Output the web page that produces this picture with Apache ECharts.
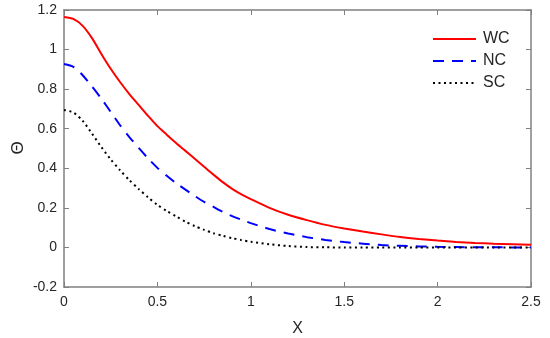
<!DOCTYPE html>
<html><head><meta charset="utf-8">
<script src="https://cdn.jsdelivr.net/npm/echarts@6/dist/echarts.min.js"></script>
<style>html,body{margin:0;padding:0;background:#fff}#c{width:550px;height:338px}</style>
</head><body><div id="c"></div>
<script>
var xs = [0, 0.05, 0.1, 0.15, 0.2, 0.25, 0.3, 0.35, 0.4, 0.45, 0.5, 0.55, 0.6, 0.65, 0.7, 0.75, 0.8, 0.85, 0.9, 0.95, 1.0,
          1.1, 1.2, 1.3, 1.4, 1.5, 1.6, 1.7, 1.8, 1.9, 2.0, 2.1, 2.2, 2.3, 2.4, 2.5];
var wc = [1.165, 1.155, 1.12, 1.058, 0.978, 0.903, 0.836, 0.775, 0.72, 0.665, 0.613, 0.57, 0.528, 0.488, 0.448, 0.408, 0.368, 0.33, 0.296, 0.268, 0.244,
          0.2, 0.165, 0.138, 0.114, 0.096, 0.08, 0.066, 0.053, 0.043, 0.035, 0.028, 0.023, 0.019, 0.016, 0.013];
var nc = [0.927, 0.913, 0.87, 0.813, 0.752, 0.685, 0.618, 0.558, 0.503, 0.45, 0.402, 0.362, 0.325, 0.292, 0.26, 0.23, 0.205, 0.18, 0.158, 0.14, 0.123,
          0.093, 0.07, 0.052, 0.038, 0.027, 0.019, 0.012, 0.008, 0.005, 0.003, 0.002, 0.001, 0.001, 0.0, 0.0];
var sc = [0.695, 0.682, 0.64, 0.575, 0.507, 0.445, 0.39, 0.34, 0.295, 0.253, 0.215, 0.184, 0.157, 0.13, 0.108, 0.089, 0.072, 0.059, 0.047, 0.037, 0.029,
          0.016, 0.007, 0.002, 0.0005, 0.0, 0.0, 0.0, 0.0, 0.0, 0.0, 0.0, 0.0, 0.0, 0.0, 0.0];
var names = ['WC', 'NC', 'SC'];
var yName = 'Θ';

function pairs(ys){ return xs.map(function(x,i){ return [x, ys[i]]; }); }
var axisCol = '#808080';
var txtCol = '#262626';
var font = 'Liberation Sans, Arial, sans-serif';
function fmt(v){ return String(Math.round(v*10)/10); }

var chart = echarts.init(document.getElementById('c'), null, {renderer:'canvas'});
var baseX = {type:'value', min:0, max:2.5, interval:0.5,
  axisLine:{show:true, onZero:false, lineStyle:{color:axisCol, width:1.5}},
  axisTick:{show:true, inside:true, length:5, lineStyle:{color:axisCol, width:1}},
  splitLine:{show:false}};
var baseY = {type:'value', min:-0.2, max:1.2, interval:0.2,
  axisLine:{show:true, onZero:false, lineStyle:{color:axisCol, width:1.5}},
  axisTick:{show:true, inside:true, length:5, lineStyle:{color:axisCol, width:1}},
  splitLine:{show:false}};

chart.setOption({
  animation:false,
  backgroundColor:'#fff',
  grid:{left:64, right:19, top:10, bottom:51, containLabel:false, outerBoundsMode:'none'},
  xAxis:[
    Object.assign({}, baseX, {position:'bottom', name:'X', nameLocation:'middle', nameGap:34,
      nameTextStyle:{fontFamily:font, fontSize:16, color:txtCol},
      axisLabel:{show:true, margin:8, fontFamily:font, fontSize:14, color:txtCol, formatter:fmt}}),
    Object.assign({}, baseX, {position:'top', axisLabel:{show:false}})
  ],
  yAxis:[
    Object.assign({}, baseY, {position:'left',
      axisLabel:{show:true, margin:7, fontFamily:font, fontSize:14, color:txtCol, formatter:fmt}}),
    Object.assign({}, baseY, {position:'right', axisLabel:{show:false}})
  ],
  graphic:[{type:'text', x:18, y:148, rotation:Math.PI/2,
    style:{text:yName, align:'center', verticalAlign:'middle', font:'17px Liberation Sans, Arial, sans-serif', fill:txtCol}}],
  legend:{orient:'vertical', left:432, top:31, padding:0, itemWidth:43, itemHeight:12, itemGap:6,
    itemStyle:{opacity:0},
    textStyle:{fontFamily:font, fontSize:16, color:txtCol, padding:[0,0,0,2]},
    data:names},
  series:[
    {name:names[0], type:'line', data:pairs(wc), smooth:0.25, symbol:'none', lineStyle:{color:'#ff0000', width:2, type:'solid'}, itemStyle:{color:'#ff0000'}},
    {name:names[1], type:'line', data:pairs(nc), smooth:0.25, symbol:'none', lineStyle:{color:'#0000ff', width:2, type:[11,8]}, itemStyle:{color:'#0000ff'}},
    {name:names[2], type:'line', data:pairs(sc), smooth:0.25, symbol:'none', lineStyle:{color:'#000000', width:2, type:[2,3.5]}, itemStyle:{color:'#000000'}}
  ]
});
</script></body></html>
